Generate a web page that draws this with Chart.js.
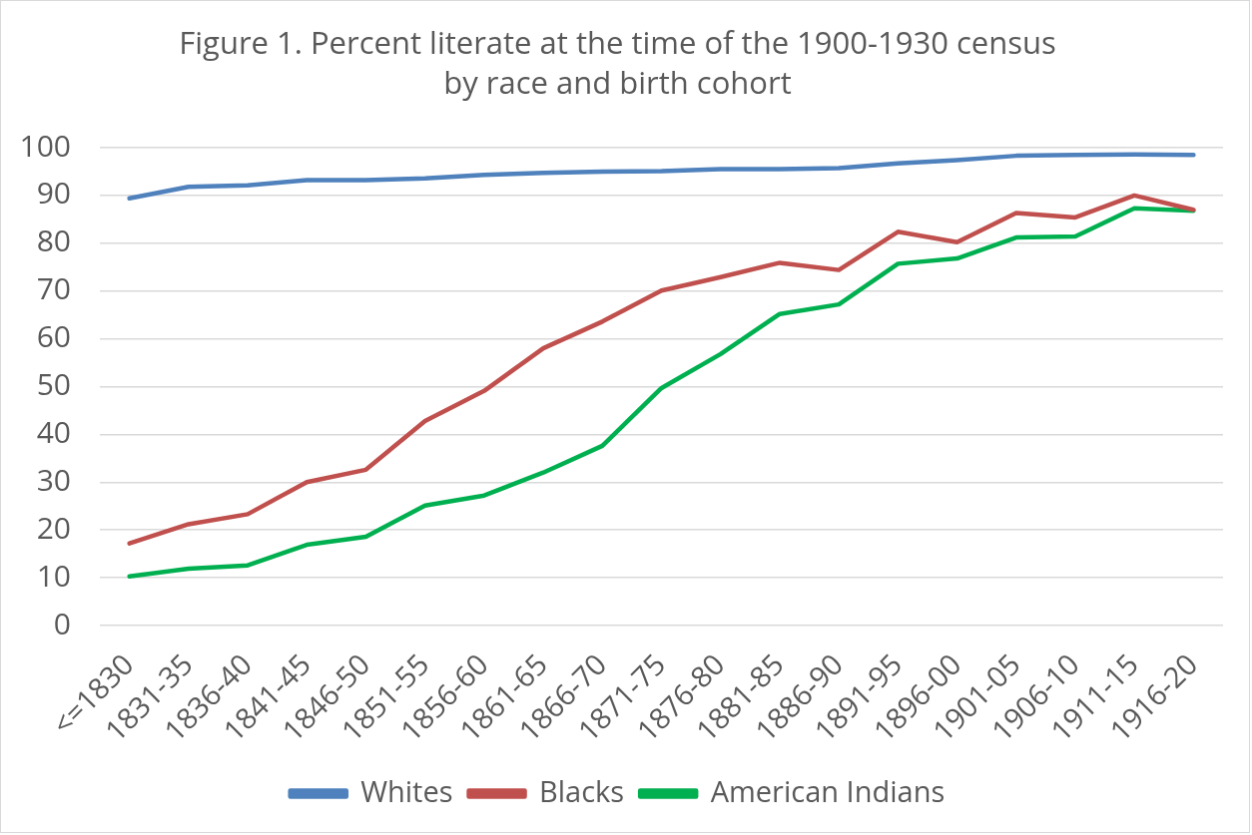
<!DOCTYPE html>
<html>
<head>
<meta charset="utf-8">
<script src="https://cdn.jsdelivr.net/npm/chart.js@4/dist/chart.umd.min.js"></script>
<style>
  body { margin: 0; background: #fff; }
  #out { display: block; border: 1px solid #d9d9d9; }
</style>
</head>
<body>
<canvas id="out" width="1250" height="833"></canvas>
<script>
const cohorts = ["<=1830", "1831-35", "1836-40", "1841-45", "1846-50", "1851-55", "1856-60",
  "1861-65", "1866-70", "1871-75", "1876-80", "1881-85", "1886-90", "1891-95", "1896-00",
  "1901-05", "1906-10", "1911-15", "1916-20"];

const whites = [89.4, 91.8, 92.1, 93.2, 93.2, 93.6, 94.3, 94.7, 95.0, 95.1, 95.5, 95.5, 95.7,
  96.7, 97.4, 98.3, 98.5, 98.6, 98.5];
const blacks = [17.2, 21.2, 23.3, 30.0, 32.6, 42.8, 49.1, 58.0, 63.6, 70.1, 72.9, 75.9, 74.4,
  82.4, 80.2, 86.3, 85.4, 90.0, 87.0];
const indians = [10.3, 11.9, 12.6, 16.9, 18.6, 25.1, 27.2, 32.0, 37.6, 49.7, 56.8, 65.2, 67.2,
  75.7, 76.8, 81.2, 81.4, 87.3, 86.8];

const titleLines = ["Figure 1. Percent literate at the time of the 1900-1930 census",
  "by race and birth cohort"];

const txtColor = "#595959";
const fontFam = "'Open Sans', sans-serif";

function series(label, data, color) {
  return {
    label: label,
    data: data,
    borderColor: color,
    backgroundColor: color,
    borderWidth: 4.5,
    pointRadius: 0,
    tension: 0,
    borderCapStyle: "round",
    borderJoinStyle: "round"
  };
}

const ctx = document.getElementById("out").getContext("2d");
new Chart(ctx, {
  type: "line",
  data: {
    labels: cohorts,
    datasets: [
      series("Whites", whites, "#4f81bd"),
      series("Blacks", blacks, "#c0504d"),
      series("American Indians", indians, "#00b050")
    ]
  },
  options: {
    responsive: false,
    animation: false,
    layout: { padding: { left: 11, right: 26, top: 0, bottom: 14 } },
    plugins: {
      title: {
        display: true,
        text: titleLines,
        color: txtColor,
        font: { family: fontFam, size: 31, weight: "normal", lineHeight: 1.29 },
        padding: { top: 24, bottom: 43 }
      },
      legend: {
        position: "bottom",
        labels: {
          color: txtColor,
          font: { family: fontFam, size: 29 },
          boxWidth: 56,
          boxHeight: 6,
          padding: 16
        }
      },
      tooltip: { enabled: false }
    },
    scales: {
      x: {
        offset: true,
        grid: { display: false },
        border: { display: false },
        afterFit: (scale) => {
          scale.height = 138;
          scale.paddingLeft = 0;
          scale.paddingRight = 0;
        },
        ticks: {
          color: txtColor,
          font: { family: fontFam, size: 29 },
          minRotation: 45,
          maxRotation: 45,
          autoSkip: false,
          padding: 15
        }
      },
      y: {
        min: 0,
        max: 100,
        grid: { color: "#d9d9d9", lineWidth: 1.5, drawTicks: false },
        border: { display: false },
        afterFit: (scale) => { scale.width = 88; },
        ticks: {
          stepSize: 10,
          color: txtColor,
          font: { family: fontFam, size: 30 },
          padding: 29
        }
      }
    }
  }
});
</script>
</body>
</html>
